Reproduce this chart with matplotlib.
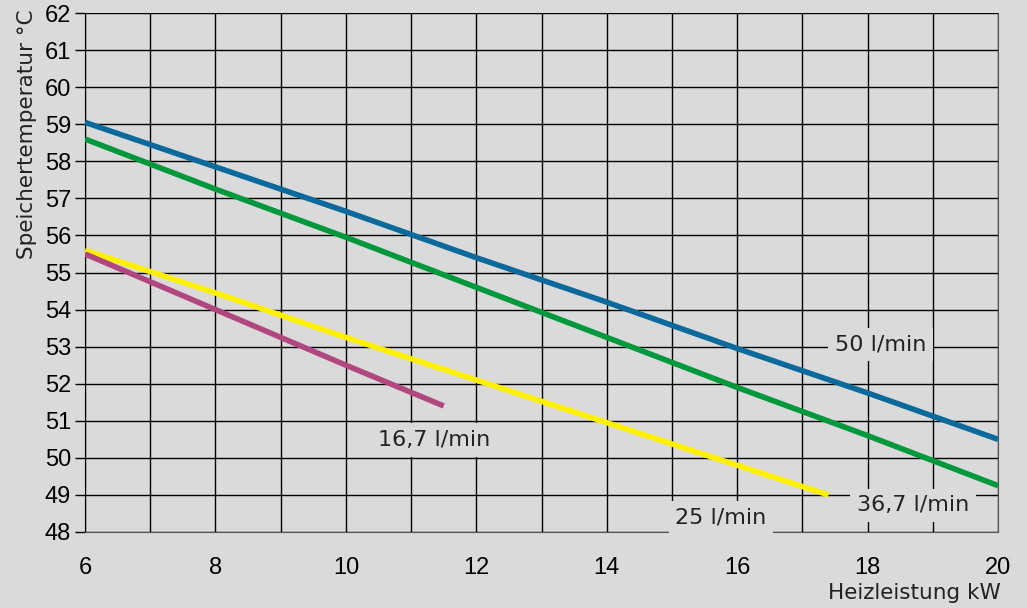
import numpy as np
import matplotlib
matplotlib.use("Agg")
import matplotlib.pyplot as plt

# Data (Heizleistung kW -> Speichertemperatur °C)
x_50 = [6, 8, 10, 12, 14, 16, 18, 20]
y_50 = [59.05, 57.85, 56.65, 55.4, 54.2, 52.95, 51.75, 50.5]
x_36 = [6, 8, 10, 12, 14, 16, 18, 20]
y_36 = [58.6, 57.25, 55.95, 54.6, 53.25, 51.9, 50.6, 49.25]
x_25 = [6, 8, 10, 12, 14, 16, 17.4]
y_25 = [55.6, 54.45, 53.25, 52.1, 50.95, 49.8, 49.0]
x_16 = [6, 8, 10, 11.5]
y_16 = [55.5, 54.0, 52.5, 51.4]

labels = ["50 l/min", "36,7 l/min", "25 l/min", "16,7 l/min"]
label_pos = [(18.2, 53.05), (18.7, 48.72), (15.75, 48.38), (11.35, 50.48)]

bg = "#dadada"
colors = ["#0b6a9b", "#00983d", "#fff000", "#b0487f"]

fig = plt.figure(figsize=(10.27, 6.08), dpi=100, facecolor=bg)
ax = fig.add_axes([0.0828, 0.125, 0.889, 0.8536], facecolor=bg)

series = [(x_50, y_50), (x_36, y_36), (x_25, y_25), (x_16, y_16)]
for (xs, ys), c in zip(series, colors):
    ax.plot(xs, ys, color=c, lw=4.0, solid_capstyle="butt", zorder=3)

ax.set_xlim(6, 20)
ax.set_ylim(48, 62)
ax.set_xticks(np.arange(6, 21, 1), minor=True)
ax.set_xticks(np.arange(6, 21, 2))
ax.set_yticks(np.arange(48, 63, 1))
ax.grid(True, which="both", color="black", lw=1.0, zorder=1)
ax.set_axisbelow(True)

tick_font = "Liberation Sans"
for lab in ax.get_xticklabels() + ax.get_yticklabels():
    lab.set_fontfamily(tick_font)
ax.tick_params(axis="y", length=7, width=1, labelsize=17, pad=3)
ax.tick_params(axis="x", which="both", length=0, labelsize=17, pad=18)

ax.spines["top"].set_visible(False)
ax.spines["left"].set_color("black")
ax.spines["bottom"].set_color("#555555")
ax.spines["right"].set_color("#555555")

# annotation labels with background boxes covering the grid
for txt, (lx, ly) in zip(labels, label_pos):
    ax.text(lx, ly, txt, ha="center", va="center", fontsize=16,
            family="DejaVu Sans", color="#222222", zorder=4,
            bbox=dict(boxstyle="square,pad=0.3", fc=bg, ec="none"))

fig.text(0.026, 0.985, "Speichertemperatur °C", rotation=90, ha="center",
         va="top", fontsize=15.5, family="DejaVu Sans", color="#222222")
fig.text(0.974, 0.008, "Heizleistung kW", ha="right", va="bottom",
         fontsize=15.5, family="DejaVu Sans", color="#222222")

fig.savefig("out.png", dpi=100, facecolor=bg)
